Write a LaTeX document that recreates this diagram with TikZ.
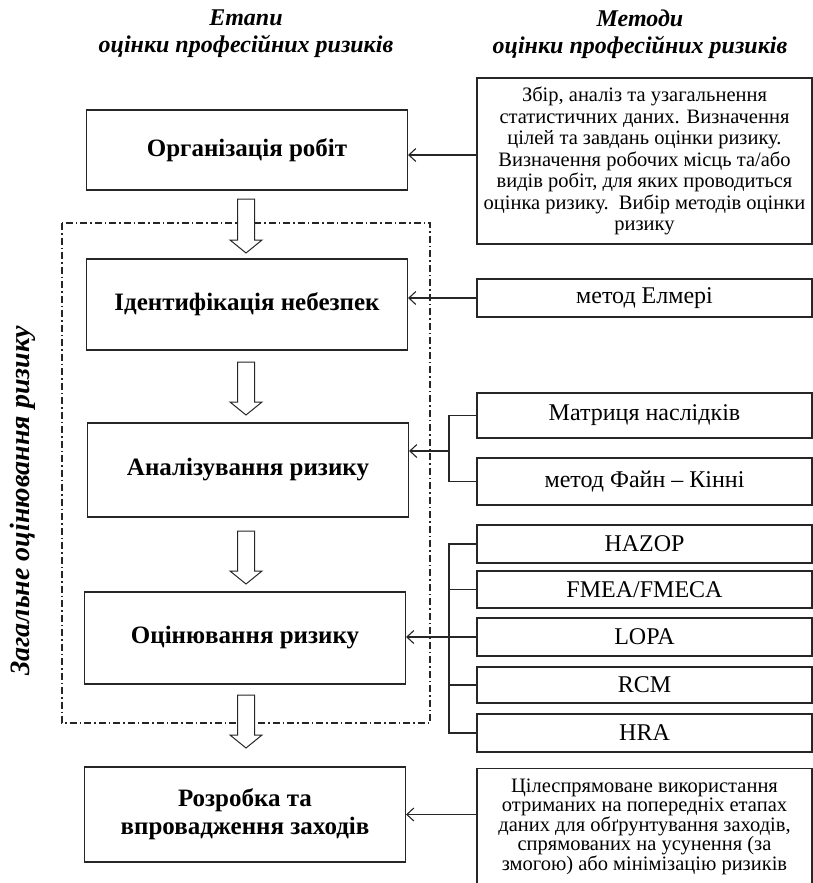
\documentclass[tikz,border=0pt]{standalone}
\usepackage{fontspec}
\setmainfont{Liberation Serif}
\usetikzlibrary{arrows.meta,positioning}

\begin{document}
\begin{tikzpicture}[x=1pt,y=-1pt,line width=1.1pt,draw=black!85,
  stage/.style={rectangle,draw,minimum width=321pt,align=center,inner sep=2pt,
    font=\fontsize{25}{28}\selectfont\bfseries},
  method/.style={rectangle,draw,minimum width=335pt,align=center,inner sep=2pt,
    font=\fontsize{24}{26}\selectfont},
  note/.style={rectangle,draw,minimum width=335pt,align=center,inner sep=2pt,
    font=\fontsize{20.5}{21.5}\selectfont},
  head/.style={align=center,font=\fontsize{24}{27}\selectfont\bfseries\itshape},
  flow/.style={draw,line width=1pt,fill=white},
  link/.style={-{Straight Barb[length=7pt,width=13pt]}}]

  \useasboundingbox (0,0) rectangle (813,883);
  \clip (0,0) rectangle (813,883);

  % Headers
  \node[head] (hst) at (246,34) {Етапи\\оцінки професійних ризиків};
  \node[head] (hmt) at (640,34) {Методи\\оцінки професійних ризиків};

  % Stages
  \node[stage,minimum height=80pt] (org) at (247,150) {Організація робіт};
  \node[stage,minimum height=91pt] (ident) at (247,304.5) {Ідентифікація небезпек};
  \node[stage,minimum height=94pt] (anal) at (248,470) {Аналізування ризику};
  \node[stage,minimum height=92pt] (eval) at (245,638) {Оцінювання ризику};
  \node[stage,minimum height=95pt] (meas) at (245,814.5) {Розробка та\\впровадження заходів};

  % Overall assessment frame
  \draw[line width=1.1pt,dash pattern=on 7pt off 3pt on 1.5pt off 3pt] (62,223) rectangle (430,723);
  \node[head,font=\fontsize{28}{30}\selectfont\bfseries\itshape,rotate=90] (overall) at (23,501)
    {Загальне оцінювання ризику};

  % Hollow arrows between stages
  \foreach \t/\b in {199/253, 362/415, 531/584, 695/748}
    \draw[flow] (237.5,\t) -- (254.5,\t) -- (254.5,\b-13) -- (262,\b-13) -- (246,\b)
      -- (230,\b-13) -- (237.5,\b-13) -- cycle;

  % Methods
  \node[note,minimum height=166pt] (prep) at (644.5,161)
    {Збір, аналіз та узагальнення\\статистичних даних. Визначення\\цілей та завдань оцінки ризику.\\
     Визначення робочих місць та/або\\видів робіт, для яких проводиться\\оцінка ризику.\ \ Вибір методів оцінки\\ризику};
  \node[method,minimum height=38pt] (elm) at (644.5,298) {метод Елмері};
  \node[method,minimum height=45pt] (matr) at (644.5,415.5) {Матриця наслідків};
  \node[method,minimum height=47pt] (fine) at (644.5,481.5) {метод Файн – Кінні};
  \node[method,minimum height=38pt] (hazop) at (644.5,544) {HAZOP};
  \node[method,minimum height=37pt] (fmea) at (644.5,589.5) {FMEA/FMECA};
  \node[method,minimum height=38pt] (lopa) at (644.5,637) {LOPA};
  \node[method,minimum height=36pt] (rcm) at (644.5,685) {RCM};
  \node[method,minimum height=38pt] (hra) at (644.5,733) {HRA};
  \node[note,anchor=north,inner ysep=10pt,font=\fontsize{20.5}{19}\selectfont,text depth=60pt] (use) at (644.5,768)
    {Цілеспрямоване використання\\отриманих на попередніх етапах\\даних для обґрунтування заходів,\\
     спрямованих на усунення (за\\змогою) або мінімізацію ризиків};

  % Junctions
  \coordinate (j2) at (449,451);
  \coordinate (j3) at (449,637);

  % Links
  \draw[link] (prep.west |- 0,155) -- (org.east |- 0,155);
  \draw[link] (elm.west) -- (ident.east |- elm.west);
  \draw (matr.west) -| (j2) |- (fine.west);
  \draw[link] (j2) -- (anal.east |- j2);
  \draw (hazop.west) -| (j3) |- (hra.west);
  \draw (fmea.west) -- (fmea.west -| j3);
  \draw (rcm.west) -- (rcm.west -| j3);
  \draw[link] (lopa.west) -- (eval.east |- lopa.west);
  \draw[link] (meas.east -| use.west) -- (meas.east);

\end{tikzpicture}
\end{document}
